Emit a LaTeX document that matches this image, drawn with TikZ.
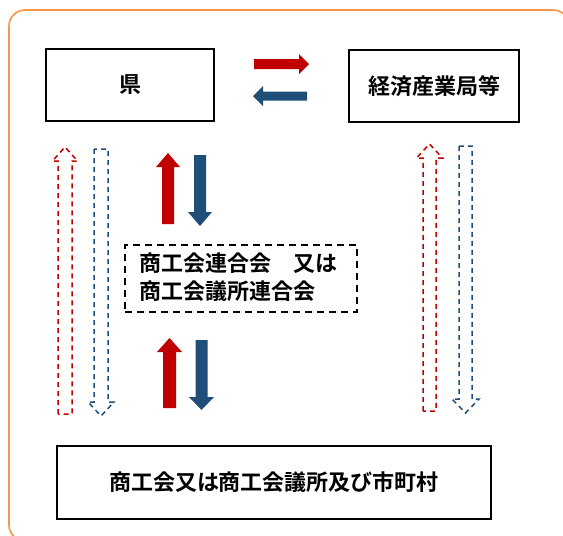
\documentclass[tikz,border=0pt]{standalone}
\usepackage{fontspec}
\setmainfont{Noto Sans CJK JP}[BoldFont={Noto Sans CJK JP Bold}]
\definecolor{fred}{HTML}{C00000}
\definecolor{fblue}{HTML}{1F4E79}
\definecolor{frame}{HTML}{F79646}
\begin{document}
\begin{tikzpicture}[x=1pt,y=-1pt,
  box/.style={draw=black,line width=2pt,fill=white,inner sep=0pt,font=\fontsize{22}{28}\selectfont\bfseries},
  dbox/.style={draw=black,line width=1.6pt,dash pattern=on 7pt off 5pt,inner sep=0pt,align=left,font=\fontsize{22}{28}\selectfont\bfseries},
  redfill/.style={fill=fred,draw=none},
  bluefill/.style={fill=fblue,draw=none},
  reddash/.style={draw=fred,line width=1.5pt,dash pattern=on 5pt off 4pt,line join=miter},
  bluedash/.style={draw=fblue,line width=1.5pt,dash pattern=on 5pt off 4pt,line join=miter}]
\useasboundingbox (0,0) rectangle (563,536);
\clip (0,0) rectangle (563,536);
% frame
\draw[frame,line width=1.6pt,rounded corners=16pt] (9,10) rectangle (569,541);
% boxes
\node[box,minimum width=168pt,minimum height=72pt] (ken) at (130,85) {県};
\node[box,minimum width=170pt,minimum height=72pt] (keizai) at (434,86) {経済産業局等};
\node[dbox,minimum width=232pt,minimum height=67pt] (rengo) at (241,278.5) {};
\node[anchor=west,inner sep=0pt,align=left,font=\fontsize{22}{28}\selectfont\bfseries] (rengotext) at (139,277) {商工会連合会　又は\\商工会議所連合会};
\node[box,minimum width=434pt,minimum height=73pt] (shoko) at (274,482.5) {商工会又は商工会議所及び市町村};
% horizontal arrows
\fill[redfill] (254,59) -- (299,59) -- (299,54) -- (309,64) -- (299,74) -- (299,69) -- (254,69) -- cycle;
\fill[bluefill] (307,91.5) -- (263,91.5) -- (263,86) -- (253,96) -- (263,106) -- (263,100.5) -- (307,100.5) -- cycle;
% upper vertical solid arrows
\fill[redfill] (162,224) -- (162,167) -- (156,167) -- (168,153) -- (180,167) -- (174,167) -- (174,224) -- cycle;
\fill[bluefill] (194,155) -- (194,212) -- (188,212) -- (200,226) -- (212,212) -- (206,212) -- (206,155) -- cycle;
% lower vertical solid arrows
\fill[redfill] (163,408) -- (163,352) -- (157,352) -- (169.5,338) -- (182,352) -- (176,352) -- (176,408) -- cycle;
\fill[bluefill] (195.5,340) -- (195.5,397) -- (189,397) -- (201.5,410) -- (214,397) -- (207.5,397) -- (207.5,340) -- cycle;
% dashed hollow arrows, left
\draw[reddash] (58,414) -- (58,161) -- (52.5,161) -- (65,147) -- (77.5,161) -- (72,161) -- (72,414) -- cycle;
\draw[bluedash] (94,149) -- (94,402) -- (88,402) -- (101,416) -- (114,402) -- (108,402) -- (108,149) -- cycle;
% dashed hollow arrows, right
\draw[reddash] (423,411) -- (423,158) -- (416.5,158) -- (429.5,144) -- (442.5,158) -- (436,158) -- (436,411) -- cycle;
\draw[bluedash] (459,146) -- (459,399) -- (452,399) -- (465.5,413) -- (479,399) -- (472,399) -- (472,146) -- cycle;
\end{tikzpicture}
\end{document}
